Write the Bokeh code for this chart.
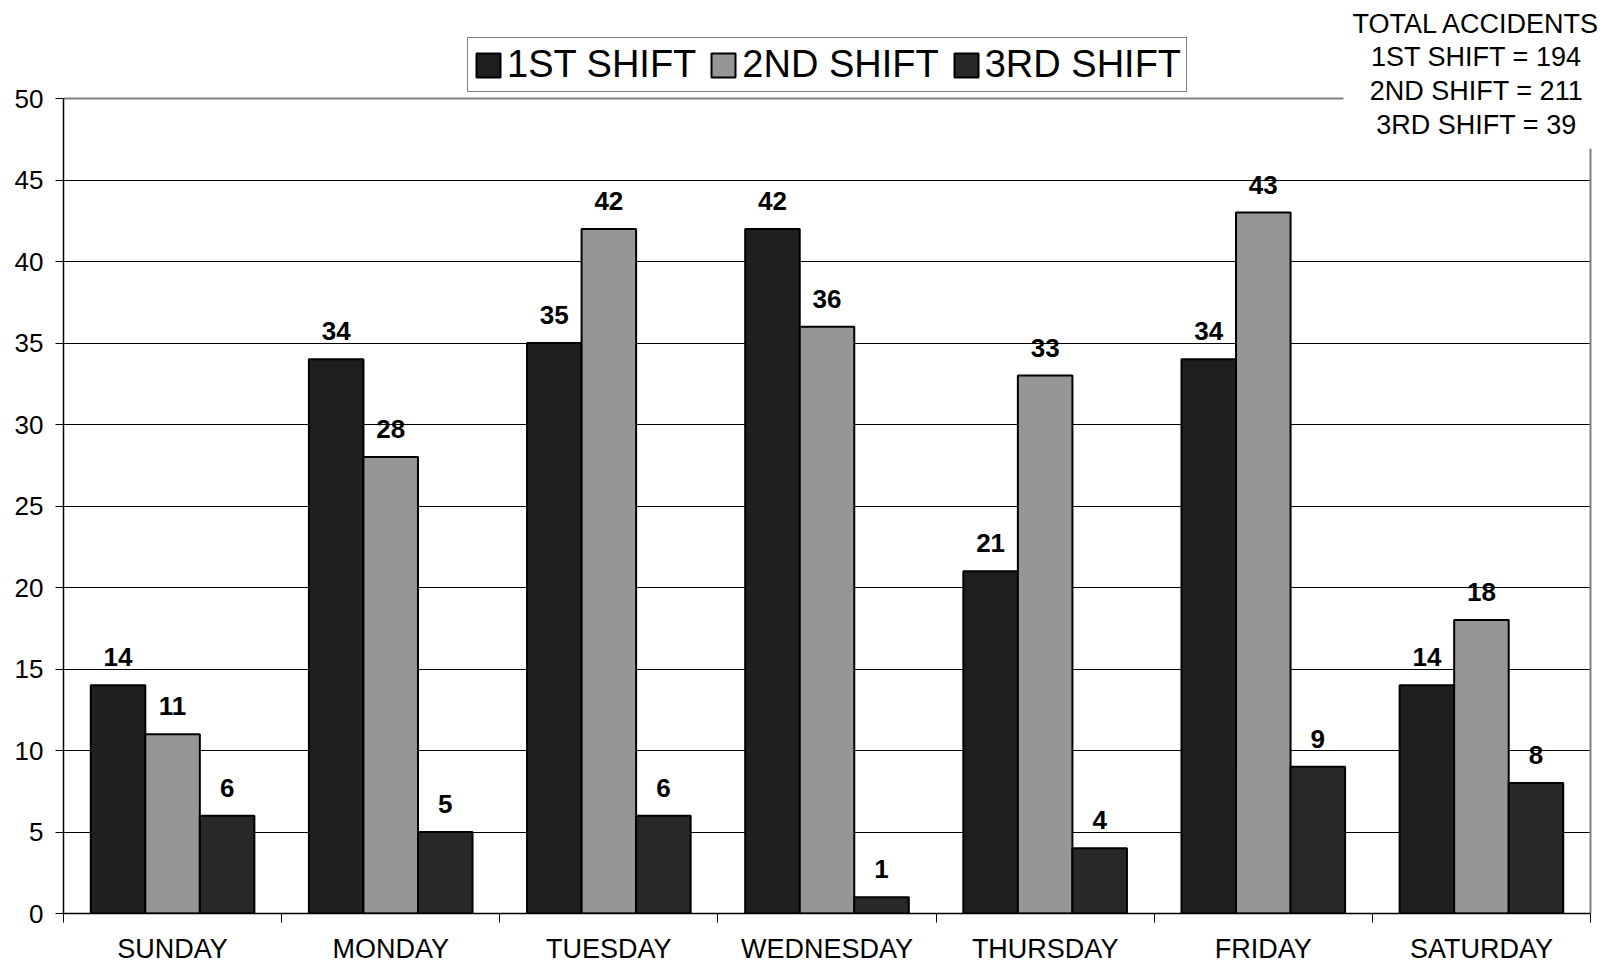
from bokeh.plotting import figure
from bokeh.models import (ColumnDataSource, FixedTicker, LabelSet, Label, Legend, LegendItem,
                          Range1d, BoxAnnotation)
from bokeh.core.properties import value
from bokeh.embed import file_html
from bokeh.resources import INLINE

days = ["SUNDAY", "MONDAY", "TUESDAY", "WEDNESDAY", "THURSDAY", "FRIDAY", "SATURDAY"]
shift_names = ["1ST SHIFT", "2ND SHIFT", "3RD SHIFT"]
first_shift = [14, 34, 35, 42, 21, 34, 14]
second_shift = [11, 28, 42, 36, 33, 43, 18]
third_shift = [6, 5, 6, 1, 4, 9, 8]
y_ticks = [0, 5, 10, 15, 20, 25, 30, 35, 40, 45, 50]
colors = ["#1f1f1f", "#969696", "#282828"]

series = [first_shift, second_shift, third_shift]
FONT = "Liberation Sans"

W, H = 1604, 966
LEFT, BOTTOM = 63, 53
PLOT_TOP_PX, PLOT_RIGHT_PX = 98, 1590      # where y=50 and x=7 sit on the page
n = len(days)
ymax = y_ticks[-1]
frame_h = H - BOTTOM
frame_w = W - LEFT
y_end = ymax * frame_h / (frame_h - PLOT_TOP_PX)
x_end = n * frame_w / (PLOT_RIGHT_PX - LEFT)

p = figure(width=W, height=H, output_backend="svg", toolbar_location=None,
           x_range=Range1d(0, x_end), y_range=Range1d(0, y_end))
p.min_border_left = LEFT
p.min_border_right = 0
p.min_border_top = 0
p.min_border_bottom = BOTTOM
p.outline_line_color = None
p.background_fill_color = "white"
p.border_fill_color = "white"

# grid
p.xgrid.visible = False
p.ygrid.ticker = FixedTicker(ticks=y_ticks[1:-1])
p.ygrid.grid_line_color = "black"
p.ygrid.grid_line_width = 1
# blank strip right of the plot area (hides grid beyond x = n)
p.add_layout(BoxAnnotation(left=n, fill_color="white", fill_alpha=1, line_color=None,
                           level="underlay"))

# plot-area border (top and right, gray)
p.segment(x0=[0, n], y0=[ymax, 0], x1=[n, n], y1=[ymax, ymax], line_color="#808080",
          line_width=2)

bar_w = 0.25
items = []
for k, vals in enumerate(series):
    xs = [i + 0.25 + bar_w * k for i in range(n)]
    src = ColumnDataSource(dict(x=xs, top=vals, lab=[str(v) for v in vals]))
    r = p.vbar(x="x", top="top", width=bar_w, source=src, fill_color=colors[k],
               line_color="black", line_width=2)
    items.append(LegendItem(label=shift_names[k], renderers=[r]))
    p.add_layout(LabelSet(x="x", y="top", text="lab", source=src, text_align="center",
                          text_baseline="alphabetic", y_offset=19, text_font=value(FONT),
                          text_font_size=value("26px"), text_font_style=value("bold"),
                          text_color=value("black")))

# axes
p.yaxis.ticker = FixedTicker(ticks=y_ticks)
p.yaxis.bounds = (0, ymax)
p.yaxis.axis_line_color = "black"
p.yaxis.axis_line_width = 1.5
p.yaxis.major_tick_in = 0
p.yaxis.major_tick_out = 8
p.yaxis.minor_tick_line_color = None
p.yaxis.major_label_standoff = 12
p.yaxis.major_label_text_font = FONT
p.yaxis.major_label_text_font_size = "26px"
p.yaxis.major_label_text_color = "black"

centers = [i + 0.5 for i in range(n)]
p.xaxis.ticker = FixedTicker(ticks=centers, minor_ticks=list(range(n + 1)))
p.xaxis.bounds = (0, n)
p.xaxis.major_label_overrides = {c: d for c, d in zip(centers, days)}
p.xaxis.axis_line_color = "black"
p.xaxis.axis_line_width = 1.5
p.xaxis.major_tick_line_color = None
p.xaxis.major_tick_in = 0
p.xaxis.major_tick_out = 0
p.xaxis.minor_tick_in = 0
p.xaxis.minor_tick_out = 9
p.xaxis.minor_tick_line_color = "black"
p.xaxis.major_label_standoff = 11
p.xaxis.major_label_text_font = FONT
p.xaxis.major_label_text_font_size = "27px"
p.xaxis.major_label_text_color = "black"

legend = Legend(items=items, orientation="horizontal", location=(404, frame_h - 92),
                label_text_font=FONT, label_text_font_size="38px", label_text_color="black",
                glyph_width=30, glyph_height=30, label_standoff=4, spacing=12,
                padding=5, margin=0, border_line_color="black", border_line_width=1,
                background_fill_color="white", background_fill_alpha=1)
p.add_layout(legend, "center")

totals = [sum(s) for s in series]
total_text = "TOTAL ACCIDENTS\n" + "\n".join(f"{nm} = {t}" for nm, t in zip(shift_names, totals))
p.add_layout(Label(x=n, y=ymax, x_offset=-114, y_offset=99, text=total_text,
                   text_align="center", text_baseline="top", text_font=FONT,
                   text_font_size="27px", text_color="black", text_line_height=1.125,
                   background_fill_color="white", background_fill_alpha=1, padding=9))

open("out.html", "w").write(file_html(p, INLINE))
